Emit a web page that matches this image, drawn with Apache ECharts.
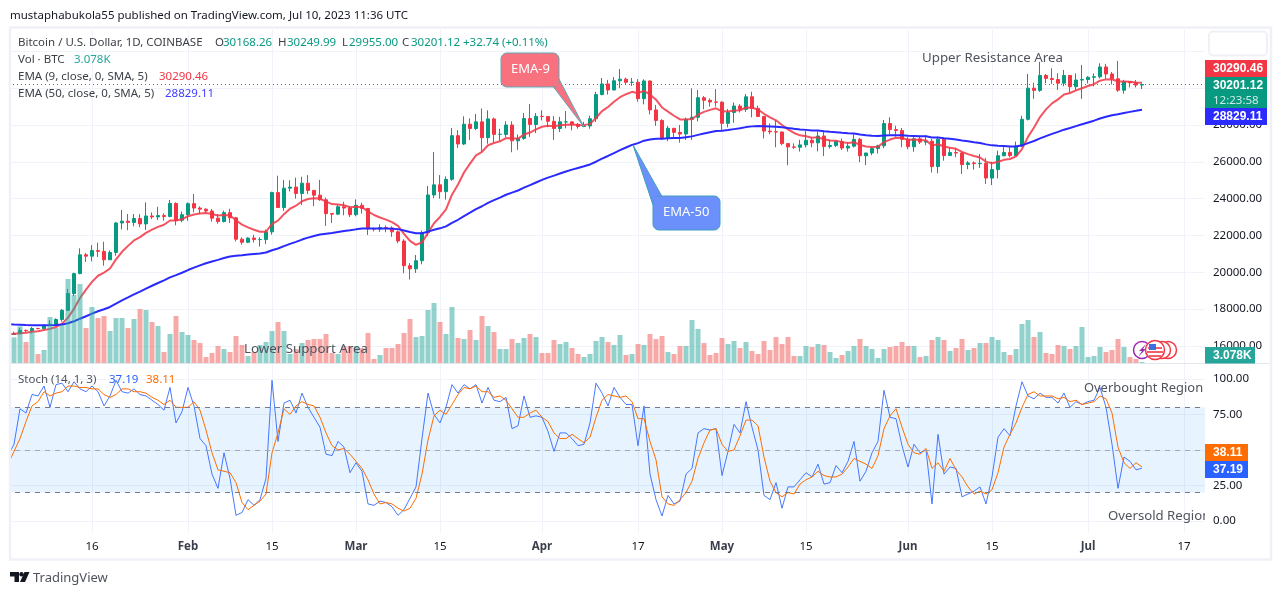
<!DOCTYPE html>
<html><head><meta charset="utf-8">
<style>html,body{margin:0;padding:0;background:#fff}#c{width:1281px;height:595px}</style>
<script src="https://cdn.jsdelivr.net/npm/echarts@6/dist/echarts.min.js"></script>
</head><body><div id="c"></div>
<script>
const closes=[16625,16670,16850,16830,16950,16940,17120,17180,17440,17940,18850,19930,20950,20880,21180,21140,20680,21080,22680,22780,22710,22920,22630,23060,23010,23080,23030,23740,22830,23130,
23730,23490,23430,23330,22940,22760,23240,22960,21800,21630,21860,21780,21780,22200,24330,23520,24570,24630,24280,24840,24450,24190,23940,23190,23160,23560,23490,23130,
23640,23470,22360,22350,22430,22410,22200,21700,20360,20190,20630,22160,24200,24750,24380,25050,27420,26970,28040,27810,28170,27310,28330,27490,27490,28000,27140,27270,28350,28030,28470,
28460,28200,27810,28170,28170,28040,27920,27950,28340,29650,30230,29900,30400,30490,30320,30320,29430,30390,28820,28250,27270,27820,27600,27510,28310,28420,29480,29340,29250,29240,
28090,28680,29030,28850,29530,28900,28460,27670,27630,27620,26990,26810,26790,26920,27170,27030,27400,26830,26890,27100,26750,26850,27220,26330,26480,26720,26870,28080,27750,27700,27220,
26820,27250,27070,27120,25740,27230,26340,26500,26480,25850,25940,25900,25920,25120,25580,26330,26510,26340,26850,28310,30000,29880,30690,30530,30470,30270,30690,30080,30440,30470,
30590,30620,31150,30770,30510,29890,30350,30290,30168.26,30201.12];
const opens=[16610,16625,16670,16850,16830,16950,16940,17120,17180,17440,17940,18850,19930,20950,20880,21180,21140,20680,21080,22680,22780,22710,22920,22630,23060,23010,23080,23030,23740,22830,
23130,23730,23490,23430,23330,22940,22760,23240,22960,21800,21630,21860,21780,21780,22200,24330,23520,24570,24630,24280,24840,24450,24190,23940,23190,23160,23560,23490,
23130,23640,23470,22360,22350,22430,22410,22200,21700,20360,20190,20630,22160,24200,24750,24380,25050,27420,26970,28040,27810,28170,27310,28330,27490,27490,28000,27140,27270,28350,28030,
28470,28460,28200,27810,28170,28170,28040,27920,27950,28340,29650,30230,29900,30400,30490,30320,30320,29430,30390,28820,28250,27270,27820,27600,27510,28310,28420,29480,29340,29250,
29240,28090,28680,29030,28850,29530,28900,28460,27670,27630,27620,26990,26810,26790,26920,27170,27030,27400,26830,26890,27100,26750,26850,27220,26330,26480,26720,26870,28080,27750,27700,
27220,26820,27250,27070,27120,25740,27230,26340,26500,26480,25850,25940,25900,25920,25120,25580,26330,26510,26340,26850,28310,30000,29880,30690,30530,30470,30270,30690,30080,30440,
30470,30590,30620,31150,30770,30510,29890,30350,30290,30168.26];
const highs=[16760,16780,16990,16890,17030,16990,17180,17400,17500,18000,19100,19980,21300,21050,21480,21610,21660,21190,22730,23390,23170,23170,23160,23800,23250,23560,23200,23930,23800,23300,
23800,24250,23580,23480,23440,23160,23350,23450,23010,21900,21900,22040,21900,22320,24380,25250,25010,25000,25140,25190,25280,24450,25020,24050,23220,23680,23830,23600,
23960,23780,23480,22420,22610,22550,22500,22270,21800,20500,20940,22270,24690,26530,25280,25210,27840,27720,28470,28360,28600,28900,28800,28400,27800,28200,28200,27480,28650,29140,28650,
28800,28480,28480,28440,28760,28180,28100,28170,28500,29800,30550,30450,30600,31040,30570,30550,30490,30480,30410,29090,28310,27950,27820,28000,28400,29990,29900,29570,29440,29950,
29290,28870,29220,29130,29680,29810,29050,28500,28090,28270,27640,27000,27000,27200,27680,27330,27650,27650,27200,27160,27270,27040,27500,27300,26380,26800,26930,28270,28420,27960,27840,
27340,27350,27400,27450,27240,27370,27290,26800,26760,26550,26040,26020,26420,26210,26010,26610,26800,26800,27100,28500,30770,30300,31430,30770,31080,30810,30990,30720,30800,31260,
30650,30800,31350,31320,30880,31480,30450,30380,30440,30249.99];
const lows=[16540,16610,16660,16760,16680,16910,16910,17090,17150,17320,17900,18720,19900,20560,20600,20830,20360,20680,20900,22330,22290,22500,22450,22300,22900,22840,22800,22990,22550,22720,
22800,23260,23170,23240,22750,22640,22710,22680,21680,21500,21590,21620,21400,21530,22050,23520,23340,24390,24000,23650,24250,23590,23890,22520,22680,23110,23100,23000,
23040,23190,22030,22220,22200,22180,21930,21580,19950,19610,19970,20440,21970,24030,24000,23950,24970,26750,26910,27190,27720,26550,26980,27040,27140,27350,26520,26650,27200,27350,27560,
28250,27880,27190,27620,27820,27710,27800,27880,27800,28170,29620,29650,29880,30000,30230,30120,29260,29120,28580,27950,27190,27120,27340,27040,27190,27190,28200,28850,29000,29000,
27660,27870,28120,28680,28710,28420,28430,27270,27500,26790,26900,25810,26700,26560,26780,26790,26570,26310,26720,26800,26640,26560,26780,25980,25820,26360,26450,26740,27500,27360,26790,
26680,26550,26970,26900,25420,25380,26060,26320,26250,25340,25600,25580,25670,24800,24740,25100,26300,26240,26350,26800,28250,29420,29800,30260,30230,29900,30100,29750,29900,29420,
30250,30100,30530,30500,30200,29800,29700,30040,30040,29955];
const volumes=[9.1,17.9,24.5,15.1,21.1,7.9,10.3,30.1,23.5,25.3,52.9,43.3,49.9,23.5,36.1,29.5,30.7,21.7,29.5,29.5,23.5,28.9,34.9,34.3,27.1,24.7,9.1,19.9,30.7,21.1,19.3,16.3,14.5,6.1,8.5,12.7,10.9,9.1,18.7,13.3,6.7,9.1,13.3,15.1,21.7,27.1,21.7,7.9,10.9,14.5,16.3,16.9,16.9,19.9,
8.5,7.9,12.7,12.7,12.7,11.5,20.5,4.9,7.3,11.5,11.5,13.9,20.5,28.9,18.1,18.7,34.3,38.5,27.1,19.9,36.1,17.5,16.9,22.3,16.3,30.7,24.7,21.1,10.9,10.9,16.9,14.5,17.5,19.9,18.1,8.5,8.5,16.3,13.9,15.1,11.5,7.9,6.1,7.9,15.7,18.1,15.1,13.3,19.3,7.3,7.9,13.9,13.3,19.9,16.9,18.7,9.1,7.9,12.7,12.7,28.3,22.9,14.5,7.3,8.5,17.5,13.9,15.7,11.5,15.1,9.7,7.9,15.7,10.3,18.1,13.9,18.1,6.7,6.7,12.7,12.1,13.9,13.3,9.1,5.5,7.3,9.7,12.7,16.9,
12.7,10.9,5.5,10.9,12.1,12.7,15.1,12.7,12.7,6.1,6.7,16.3,18.1,16.3,9.7,11.5,16.9,10.3,11.5,14.5,14.5,18.1,16.3,9.1,7.3,10.9,25.9,28.3,18.1,21.1,8.5,7.9,13.3,12.7,10.9,12.7,24.1,6.1,6.7,12.1,9.1,10.3,16.9,12.1,6.1,4.9,3.078];
const ema9=[16655,16660,16698,16724,16769,16803,16866,16929,17031,17213,17540,18018,18604,19059,19483,19814,19987,20206,20701,21117,21436,21733,21912,22142,22316,22469,22581,22813,22816,22879,
23049,23137,23196,23223,23166,23085,23116,23085,22828,22588,22442,22310,22204,22203,22628,22806,23159,23453,23618,23862,23980,24022,24006,23843,23706,23677,23640,23538,
23558,23540,23304,23113,22976,22863,22730,22524,22091,21711,21495,21628,22142,22664,23007,23416,24217,24768,25422,25900,26354,26545,26902,27020,27114,27291,27261,27263,27480,27590,27766,
27905,27964,27933,27980,28018,28022,28002,27992,28062,28380,28750,28980,29264,29509,29671,29801,29727,29860,29652,29372,28952,28726,28501,28303,28304,28327,28558,28714,28821,28905,
28742,28730,28790,28802,28948,28938,28842,28608,28412,28254,28001,27763,27568,27438,27384,27313,27330,27230,27162,27150,27070,27026,27065,26918,26830,26808,26820,27072,27208,27306,27289,
27195,27206,27179,27167,26882,26952,26830,26764,26707,26536,26417,26314,26235,26012,25926,26007,26108,26154,26293,26696,27357,27862,28428,28848,29172,29392,29652,29738,29878,29996,
30115,30216,30403,30476,30483,30364,30361,30347,30312,30290.46];
const ema50=[17180,17162,17150,17137,17130,17123,17123,17125,17137,17168,17234,17340,17482,17615,17755,17888,17997,18118,18297,18473,18639,18807,18957,19118,19271,19420,19562,19726,19848,19977,
20124,20256,20380,20496,20592,20677,20777,20863,20900,20929,20965,20997,21028,21074,21202,21293,21421,21547,21654,21779,21884,21974,22051,22096,22138,22194,22245,22280,
22333,22378,22377,22376,22378,22379,22372,22346,22268,22187,22126,22127,22208,22308,22389,22493,22686,22854,23057,23243,23436,23588,23774,23920,24060,24214,24329,24444,24597,24732,24879,
25019,25144,25249,25364,25474,25575,25667,25756,25857,26006,26172,26318,26478,26635,26779,26918,27016,27148,27214,27255,27256,27278,27291,27300,27340,27382,27464,27538,27605,27669,
27686,27725,27776,27818,27885,27925,27946,27935,27923,27911,27875,27833,27792,27758,27735,27707,27695,27661,27631,27610,27576,27548,27535,27488,27448,27419,27397,27424,27437,27447,27438,
27414,27408,27395,27384,27320,27316,27278,27248,27218,27164,27116,27068,27023,26948,26894,26872,26858,26838,26838,26896,27018,27130,27270,27398,27518,27626,27746,27837,27939,28038,
28138,28235,28349,28444,28525,28579,28648,28712,28769,28829.11];
const stochK=[46,54,79,76,89,88,95,80,96,97,91,98,93,91,95,91,81,88,99,91,90,93,89,88,85,82,78,94,69,77,94,81,58,53,33,23,48,30,4,6,15,11,15,30,99,56,83,85,76,90,80,73,66,47,46,56,52,34,41,35,12,11,14,13,10,4,8,16,24,58,90,75,69,80,96,90,96,93,96,83,94,85,84,87,65,67,88,73,74,73,63,49,62,62,58,53,54,69,97,90,81,94,87,82,82,53,81,33,15,3.5,18,12,14,33,37,62,65,64,65,32,49,68,62,84,66,50,18,15,27,9,24,24,29,34,31,40,26,27,39,34,42,56,28,35,48,56,92,73,72,53,38,54,48,50,12,61,33,38,37,17,19,21,24,12,31,59,65,60,81,98,88,86,90,87,87,83,90,80,84,82,84,85,94,80,54,23,45,42,36,37.19];
const stochD=[40,49,58,70,81,84,91,88,90,91,95,95,94,94,93,93,89,87,89,93,93,91,91,90,87,85,82,85,80,80,80,84,78,64,48,36,35,34,27,13,8,11,14,19,48,62,79,75,81,84,82,81,73,62,53,50,51,47,42,37,29,19,12,13,12,9,7,9,16,33,57,74,78,75,82,89,94,93,95,91,91,87,88,85,79,73,73,76,78,73,70,62,58,58,61,58,55,59,73,85,89,88,87,88,84,72,72,56,43,17,12,11,15,20,28,44,55,64,65,54,49,50,60,71,71,67,45,28,20,17,20,19,26,29,31,35,32,31,31,33,38,44,42,40,37,46,65,74,79,66,54,48,47,51,37,41,35,44,36,31,24,19,21,19,22,34,52,61,69,80,89,91,88,88,88,86,87,84,85,82,83,84,88,86,76,52,41,37,41,38.11];
const priceTicks=[16000,18000,20000,22000,24000,26000,28000,30000,32000];
const stochTicks=[0,25,50,75,100];
const timeTicks={"2023-01-16":"16","2023-02-01":"Feb","2023-02-15":"15","2023-03-01":"Mar","2023-03-15":"15","2023-04-01":"Apr","2023-04-17":"17","2023-05-01":"May","2023-05-15":"15","2023-06-01":"Jun","2023-06-15":"15","2023-07-01":"Jul","2023-07-17":"17"};
const categories=[];
for(let d=Date.UTC(2023,0,2);d<=Date.UTC(2023,6,20);d+=864e5)categories.push(new Date(d).toISOString().slice(0,10));

const FONT='"Noto Sans"';
const UP='#089981',DOWN='#f23645',GRIDC='#f0f3fa',FS=11.5;
const isTick=(i,v)=>v in timeTicks;
const xBase={type:'category',data:categories,boundaryGap:true,axisLine:{show:false},axisTick:{show:false,alignWithLabel:true},
  splitLine:{show:true,alignWithLabel:true,interval:isTick,lineStyle:{color:GRIDC,width:1}}};
const T=(x,y,text,fill,size,extra)=>({type:'text',x,y:y+1,z:60,style:Object.assign({text,fill:fill||'#131722',font:(extra&&extra.fontWeight?extra.fontWeight+' ':'')+(size||FS)+'px '+FONT,textVerticalAlign:'middle'},extra||{})});
const tag=(x,y,w,h,fill)=>({type:'rect',z:50,shape:{x,y,width:w,height:h},style:{fill}});
function bubble(x0,y0,x1,y1,r,fill,stroke){
  const pts=[];const arc=(cx,cy,a0)=>{for(let k=0;k<=6;k++){const a=a0+k/6*Math.PI/2;pts.push([cx+r*Math.cos(a),cy+r*Math.sin(a)]);}};
  arc(x0+r,y0+r,Math.PI);arc(x1-r,y0+r,-Math.PI/2);arc(x1-r,y1-r,0);arc(x0+r,y1-r,Math.PI/2);
  return {type:'polygon',z:55,shape:{points:pts},style:{fill,stroke,lineWidth:1}};
}
const graphics=[
  {type:'rect',z:61,shape:{x:0,y:27,width:10,height:533},style:{fill:'#fff'}},
  {type:'rect',z:62,shape:{x:10,y:27.5,width:1261,height:532},style:{fill:'none',stroke:'#eff1f7',lineWidth:2.5}},
  {type:'line',z:40,shape:{x1:11,y1:363.5,x2:1271,y2:363.5},style:{stroke:'#e4e6ee',lineWidth:1}},
  T(10,15,'mustaphabukola55 published on TradingView.com, Jul 10, 2023 11:36 UTC','#131722'),
  T(18,42,'Bitcoin / U.S. Dollar, 1D, COINBASE','#3d4048'),
  T(215,42,'O','#3d4048'),T(223,42,'30168.26',UP),
  T(278,42,'H','#3d4048'),T(287,42,'30249.99',UP),
  T(342,42,'L','#3d4048'),T(349,42,'29955.00',UP),
  T(402,42,'C','#3d4048'),T(411,42,'30201.12',UP),
  T(463,42,'+32.74 (+0.11%)',UP),
  T(18,59,'Vol · BTC','#3d4048'),T(74,59,'3.078K','#26a69a'),
  T(18,76,'EMA (9, close, 0, SMA, 5)','#3d4048'),T(159,76,'30290.46',DOWN),
  T(18,93,'EMA (50, close, 0, SMA, 5)','#3d4048'),T(165,93,'28829.11','#4040ff'),
  T(18,379,'Stoch (14, 1, 3)','#50535e'),T(109,379,'37.19','#2962ff'),T(146,379,'38.11','#ff6d00'),
  T(922,57.5,'Upper Resistance Area','#50535e',13.3),
  T(244,348.5,'Lower Support Area','#50535e',13.3),
  T(1084,387.5,'Overbought Region','#50535e',12.9),
  T(1108,515.5,'Oversold Region','#50535e',13.2),
  {type:'rect',z:61,shape:{x:1205,y:500,width:7,height:30},style:{fill:'#fff'}},
  // callouts
  bubble(501,53,559,87,6,'#f7717f','#5ea7b5'),
  {type:'polygon',z:54,shape:{points:[[552,85],[559,79],[584,127]]},style:{fill:'#f7717f',stroke:'#5ea7b5',lineWidth:1}},
  {type:'rect',z:56,shape:{x:545,y:78,width:13.5,height:8},style:{fill:'#f7717f'}},
  T(511,68,'EMA-9','#ffffff',13),
  bubble(653,196,720,230,6,'#6b8ffb','#3f9fbb'),
  {type:'polygon',z:54,shape:{points:[[633,145],[662,196.5],[653,205]]},style:{fill:'#6b8ffb',stroke:'#3f9fbb',lineWidth:1}},
  {type:'rect',z:56,shape:{x:653.5,y:196.5,width:12,height:12},style:{fill:'#6b8ffb'}},
  T(663,211,'EMA-50','#ffffff',13),
  // event icons
  {type:'circle',z:52,shape:{cx:1168,cy:350,r:8.5},style:{fill:'#fff',stroke:'#f23645',lineWidth:1.5}},
  {type:'circle',z:53,shape:{cx:1162,cy:350,r:8.5},style:{fill:'#fff',stroke:'#f23645',lineWidth:1.5}},
  {type:'circle',z:51,shape:{cx:1142,cy:350,r:8.5},style:{fill:'#fff',stroke:'#9c27b0',lineWidth:1.5}},
  {type:'polygon',z:52,shape:{points:[[1146,344],[1139,351],[1142,351],[1138,357],[1146,349],[1143,349]]},style:{fill:'#9c27b0'}},
  {type:'circle',z:54,shape:{cx:1155,cy:350,r:9.5},style:{fill:'#fff',stroke:'#f23645',lineWidth:1.5}},
  {type:'rect',z:55,shape:{x:1148,y:347,width:14,height:2},style:{fill:'#f0606c'}},
  {type:'rect',z:55,shape:{x:1147,y:351,width:16,height:2},style:{fill:'#f0606c'}},
  {type:'rect',z:55,shape:{x:1149,y:355,width:12,height:2},style:{fill:'#f0606c'}},
  {type:'rect',z:56,shape:{x:1149,y:344,width:7,height:6},style:{fill:'#3d6fe0'}},
  // price tags
  tag(1205,60,62,17,DOWN),T(1213,68,'30290.46','#fff',FS,{fontWeight:'bold'}),
  tag(1205,77,62,31,UP),T(1213,84.5,'30201.12','#fff',FS,{fontWeight:'bold'}),T(1213,99.5,'12:23:58','#cdeee6',FS),
  tag(1205,108,62,17,'#2b2bff'),T(1213,116,'28829.11','#fff',FS,{fontWeight:'bold'}),
  tag(1205,347,50,16.5,'#26a69a'),T(1213,355,'3.078K','#fff',FS,{fontWeight:'bold'}),
  tag(1205,444,43,17,'#ff6d00'),T(1213,452,'38.11','#fff',FS,{fontWeight:'bold'}),
  tag(1205,461,43,17,'#2962ff'),T(1213,469,'37.19','#fff',FS,{fontWeight:'bold'}),
  {type:'rect',z:50,shape:{x:1209,y:31.5,width:58,height:24,r:4},style:{fill:'#fff',stroke:'#eff1f7',lineWidth:2}},
  // logo
  {type:'polygon',z:60,shape:{points:[[10,572],[19,572],[19,582],[14.5,582],[14.5,576.5],[10,576.5]]},style:{fill:'#131722'}},
  {type:'circle',z:60,shape:{cx:21.5,cy:574.2,r:2.2},style:{fill:'#131722'}},
  {type:'polygon',z:60,shape:{points:[[24.5,572],[29.5,572],[25,582],[20,582]]},style:{fill:'#131722'}},
  T(33,577,'TradingView','#50535e',13)
];
const axisLabelBase={formatter:v=>v.toFixed(2),margin:8,padding:[4,0,0,0],fontFamily:FONT,fontSize:FS,color:'#131722'};
const chart=echarts.init(document.getElementById('c'),null,{renderer:'canvas'});
chart.setOption({
  animation:false,backgroundColor:'#fff',
  grid:[{left:5,top:30,width:1200,height:333},{left:5,top:364,width:1200,height:169}],
  xAxis:[Object.assign({},xBase,{gridIndex:0,axisLabel:{show:false}}),
    Object.assign({},xBase,{gridIndex:1,axisLabel:{show:true,interval:isTick,margin:8,fontFamily:FONT,fontSize:FS,color:'#131722',
      formatter:v=>{const t=timeTicks[v]||'';return /[A-Z]/.test(t)?'{m|'+t+'}':t;},rich:{m:{fontFamily:FONT,fontSize:FS,fontWeight:'bold',color:'#3a3e4a'}}}})],
  yAxis:[
    {gridIndex:0,type:'value',position:'right',min:15077,max:33158,axisLine:{show:false},
      axisTick:{show:false,customValues:priceTicks},
      axisLabel:Object.assign({customValues:priceTicks},axisLabelBase),
      splitLine:{lineStyle:{color:GRIDC,width:1}}},
    {gridIndex:0,type:'value',min:2.5,max:202.3,show:false,splitLine:{show:false}},
    {gridIndex:1,type:'value',position:'right',min:-8.45,max:110.5,axisLine:{show:false},
      axisTick:{show:false,customValues:stochTicks},
      axisLabel:Object.assign({customValues:stochTicks},axisLabelBase),
      splitLine:{lineStyle:{color:GRIDC,width:1}}}
  ],
  series:[
    {name:'BTCUSD',type:'candlestick',xAxisIndex:0,yAxisIndex:0,z:2,barWidth:4,
      data:closes.map((c,i)=>[opens[i],c,lows[i],highs[i]]),
      itemStyle:{color:UP,color0:DOWN,borderColor:UP,borderColor0:DOWN,borderWidth:1},
      markLine:{silent:true,symbol:'none',label:{show:false},lineStyle:{color:UP,type:[1,3],width:1,opacity:1},data:[{yAxis:30201.12}]}},
    {name:'EMA 9',type:'line',xAxisIndex:0,yAxisIndex:0,z:3,data:ema9,showSymbol:false,symbol:'none',lineStyle:{color:DOWN,width:2,opacity:.85}},
    {name:'EMA 50',type:'line',xAxisIndex:0,yAxisIndex:0,z:3,data:ema50,showSymbol:false,symbol:'none',lineStyle:{color:'#2a2aff',width:2,opacity:1}},
    {name:'Volume',type:'bar',xAxisIndex:0,yAxisIndex:1,z:4,barWidth:5,
      data:volumes.map((v,i)=>({value:v,itemStyle:{color:closes[i]>=opens[i]?'rgba(38,166,154,.5)':'rgba(239,83,80,.5)'}}))},
    {name:'%K',type:'line',xAxisIndex:1,yAxisIndex:2,z:3,data:stochK,showSymbol:false,symbol:'none',lineStyle:{color:'#2962ff',width:1,opacity:.85},
      markArea:{silent:true,itemStyle:{color:'rgba(33,150,243,.11)'},data:[[{yAxis:80},{yAxis:20}]]},
      markLine:{silent:true,symbol:'none',label:{show:false},lineStyle:{color:'#787b86',type:[5,5],width:1},
        data:[{yAxis:80},{yAxis:50,lineStyle:{color:'#a5a8b0',type:[5,5],width:1}},{yAxis:20}]}},
    {name:'%D',type:'line',xAxisIndex:1,yAxisIndex:2,z:3,data:stochD,showSymbol:false,symbol:'none',lineStyle:{color:'#ff6d00',width:1}}
  ],
  graphic:{elements:graphics}
});
</script></body></html>
